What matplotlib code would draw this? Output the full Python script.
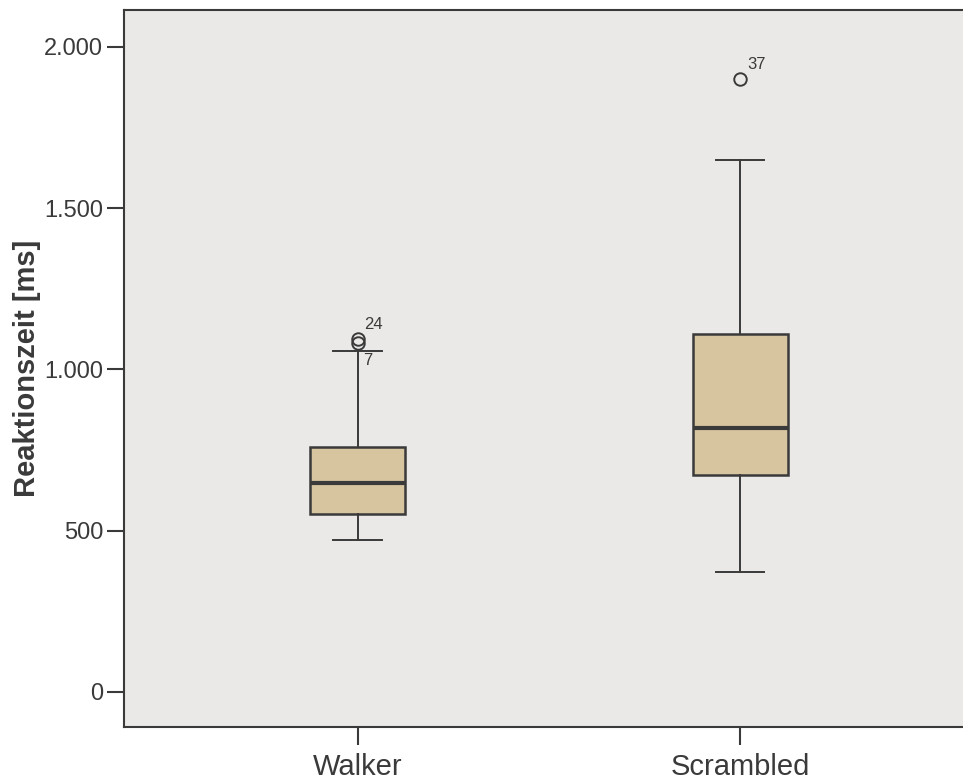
import matplotlib
matplotlib.use("Agg")
import matplotlib.pyplot as plt

# Boxplot summary (SPSS style)
groups = ["Walker", "Scrambled"]
whislo = [471, 372]
q1 = [552, 671]
med = [649, 818]
q3 = [758, 1111]
whishi = [1057, 1649]
outlier_vals = [[1093, 1082], [1899]]
outlier_ids = [["24", "7"], ["37"]]
yticks = [0, 500, 1000, 1500, 2000]
ytick_labels = ["0", "500", "1.000", "1.500", "2.000"]

LINE = "#3a3a3a"
FILL = "#d6c59f"
BG = "#ebe9e7"

plt.rcParams["font.family"] = ["Liberation Sans", "DejaVu Sans"]

fig = plt.figure(figsize=(9.63, 7.84), dpi=100)
# right edge runs past the figure like in the reference
ax = fig.add_axes([124 / 963, 57 / 784, (975 - 124) / 963, 717 / 784])
ax.set_facecolor(BG)

stats = []
for i, g in enumerate(groups):
    stats.append(dict(label=g, whislo=whislo[i], q1=q1[i], med=med[i],
                      q3=q3[i], whishi=whishi[i], fliers=outlier_vals[i]))

ax.bxp(stats, positions=[1, 2], widths=0.248, patch_artist=True,
       showfliers=True,
       boxprops=dict(facecolor=FILL, edgecolor=LINE, linewidth=1.8),
       medianprops=dict(color=LINE, linewidth=3),
       whiskerprops=dict(color=LINE, linewidth=1.4),
       capprops=dict(color=LINE, linewidth=1.4),
       capwidths=0.126,
       flierprops=dict(marker="o", markersize=9, markerfacecolor="none",
                       markeredgecolor=LINE, markeredgewidth=1.4))

# outlier case numbers
for i, (vals, ids) in enumerate(zip(outlier_vals, outlier_ids)):
    for v, lab in zip(vals, ids):
        if lab == "7":
            ax.annotate(lab, (i + 1, v), xytext=(4, -7), textcoords="offset points",
                        ha="left", va="top", fontsize=12, color=LINE)
        else:
            ax.annotate(lab, (i + 1, v), xytext=(5, 5), textcoords="offset points",
                        ha="left", va="bottom", fontsize=12, color=LINE)

ax.set_xlim(0.39, 2.613)
ax.set_ylim(-109, 2114)
ax.set_yticks(yticks)
ax.set_yticklabels(ytick_labels)
ax.set_xticks([1, 2])
ax.set_xticklabels(groups)

ax.tick_params(axis="y", length=12, width=1.5, color=LINE, labelsize=17,
               labelcolor=LINE, pad=3)
ax.tick_params(axis="x", length=13, width=1.5, color=LINE, labelsize=21,
               labelcolor=LINE, pad=6)

for side in ["left", "bottom", "top"]:
    ax.spines[side].set_color(LINE)
    ax.spines[side].set_linewidth(1.5)
ax.spines["right"].set_visible(False)

ax.set_ylabel("Reaktionszeit [ms]", fontsize=21, fontweight="bold", color=LINE)
ax.yaxis.set_label_coords(-0.097, 0.5)

fig.savefig("out.png", dpi=100)
